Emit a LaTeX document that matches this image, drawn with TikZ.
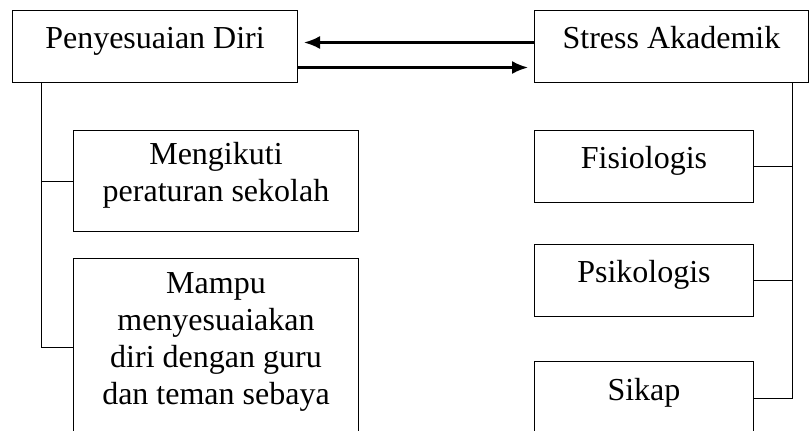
\documentclass[tikz,border=0pt]{standalone}
\usepackage{fontspec}
\setmainfont{Liberation Serif}
\usetikzlibrary{arrows.meta}

\begin{document}
\begin{tikzpicture}[x=0.5pt, y=-0.5pt,
	box/.style={rectangle, draw=black, line width=0.5pt, anchor=north west, align=center, inner sep=2pt, text depth=9pt, font=\fontsize{16}{18.5}\selectfont},
	bigarrow/.style={line width=1.1pt, -{Latex[length=8pt, width=6.5pt]}, shorten >=3pt},
	branch/.style={line width=0.5pt}]
	\useasboundingbox (0,0) rectangle (809,430);
	\node (diri) at (12,10)[box, minimum width=142.5pt, minimum height=36pt]{Penyesuaian Diri};
	\node (stress) at (534,10)[box, minimum width=137pt, minimum height=36pt]{Stress Akademik};
	\node (aturan) at (73,130)[box, minimum width=142.5pt, minimum height=50.5pt]{Mengikuti\\peraturan sekolah};
	\node (mampu) at (73,258)[box, minimum width=142.5pt, minimum height=89pt]{Mampu\\menyesuaiakan\\diri dengan guru\\dan teman sebaya};
	\node (fisio) at (534,130)[box, minimum width=109.5pt, minimum height=36pt]{Fisiologis};
	\node (psiko) at (534,244)[box, minimum width=109.5pt, minimum height=36pt]{Psikologis};
	\node (sikap) at (534,361)[box, minimum width=109.5pt, minimum height=37pt]{Sikap};
	\draw[bigarrow] ([yshift=2pt]stress.west) -- ([yshift=2pt]diri.east);
	\draw[bigarrow] ([yshift=-10.5pt]diri.east) -- ([yshift=-10.5pt]stress.west);
	\draw[branch] ([xshift=14.5pt]diri.south west) |- (aturan.west);
	\draw[branch] ([xshift=14.5pt]diri.south west) |- (mampu.west);
	\draw[branch] ([xshift=-8.5pt]stress.south east) |- (fisio.east);
	\draw[branch] ([xshift=-8.5pt]stress.south east) |- (psiko.east);
	\draw[branch] ([xshift=-8.5pt]stress.south east) |- (sikap.east);
\end{tikzpicture}
\end{document}
